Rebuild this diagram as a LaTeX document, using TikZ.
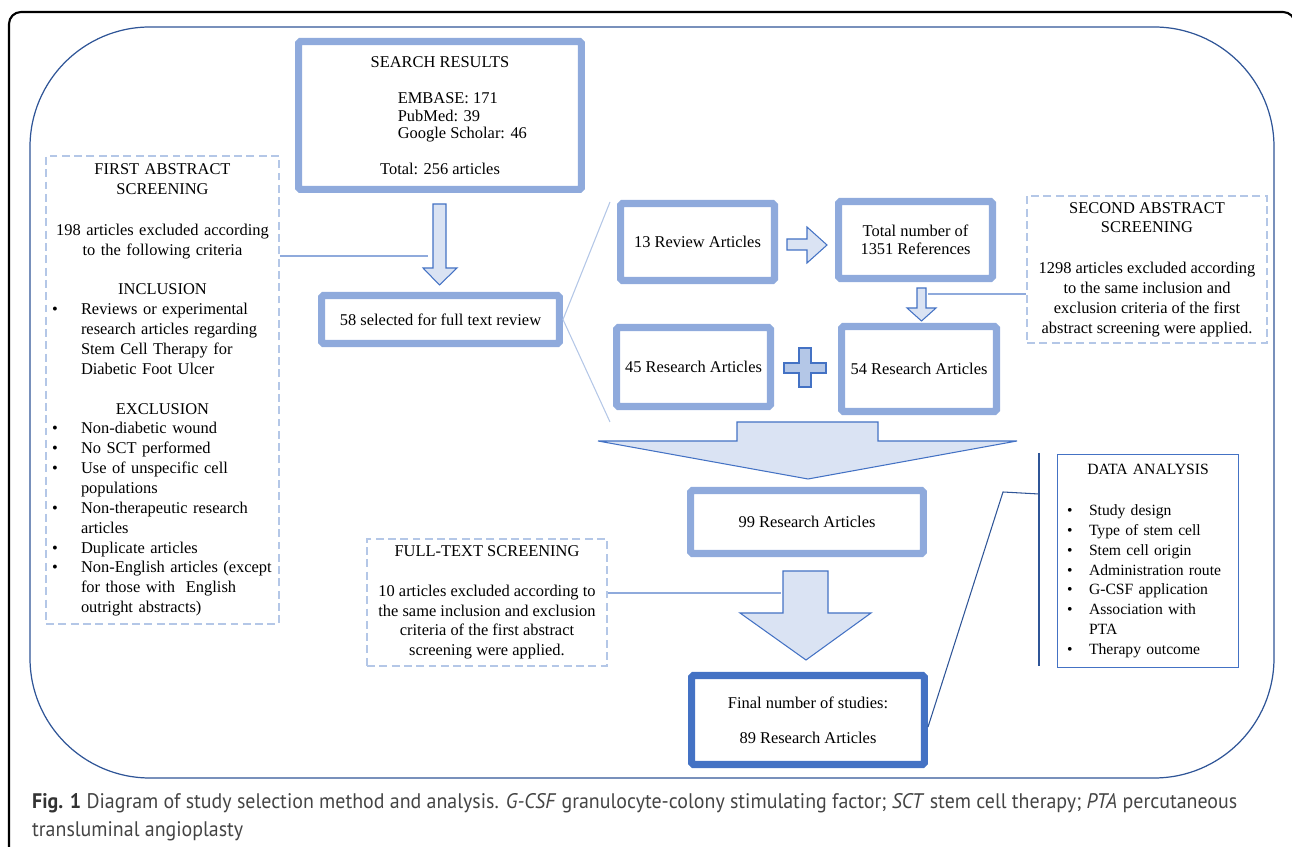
\documentclass[tikz,border=0pt]{standalone}
\usepackage{fontspec}
\setmainfont{Liberation Serif}
\newfontfamily\capfont[FakeStretch=0.945]{PT Sans}
\usepackage{xcolor}
\definecolor{boxblue}{HTML}{8FAADC}
\definecolor{dashblue}{HTML}{B4C7E7}
\definecolor{arrowfill}{HTML}{DAE3F3}
\definecolor{arrowline}{HTML}{4472C4}
\definecolor{plusfill}{HTML}{B4C7E7}
\definecolor{darkblue}{HTML}{2F5597}
\definecolor{capgray}{HTML}{444444}
\setlength{\parskip}{0pt}
\newcommand{\bpt}[2][5.8mm]{\par\noindent\hangindent=#1\hangafter=1\makebox[#1][l]{\textbullet}{\let\\\newline #2}\par}
\newcommand{\src}[1]{\hspace*{25pt}\makebox[73pt][l]{#1}}

\begin{document}
\begin{tikzpicture}[x=0.02cm,y=-0.02cm,
    txt/.style={font=\fontsize{9.35}{11.3}\selectfont,align=center},
    wh/.style 2 args={minimum width=#1*0.2mm,minimum height=#2*0.2mm},
    mainbox/.style={draw=boxblue,line width=4pt,rounded corners=1pt,inner sep=0pt,txt},
    finalbox/.style={mainbox,draw=arrowline},
    dashbox/.style={draw=dashblue,line width=1.1pt,dash pattern=on 4.5pt off 2.5pt,inner sep=0pt,txt},
    databox/.style={draw=arrowline,line width=0.6pt,inner sep=0pt,font=\fontsize{8.9}{11.3}\selectfont},
    blockarrow/.style={fill=arrowfill,draw=arrowline,line width=0.6pt},
    thinlink/.style={draw=boxblue,line width=0.6pt},
    fanline/.style={draw=dashblue,line width=0.6pt},
    darklink/.style={draw=darkblue,line width=0.6pt}]
\useasboundingbox (0,0) rectangle (1292,847);
\begin{scope}
\clip (0,0) rectangle (1292,847);
\draw[line width=1.2pt,rounded corners=2.4mm] (9,12) rectangle (1295,900);
\end{scope}
\draw[darkblue,line width=0.7pt,rounded corners=24mm] (30,27) rectangle (1274,778);

% boxes
\node (search) at (440,115.5) [mainbox,wh={283}{148}] {SEARCH RESULTS\\[9.6pt]
    \src{EMBASE: 171}\\[-1.4pt]
    \src{PubMed: 39}\\[-1.4pt]
    \src{Google Scholar: 46}\\[9.1pt]
    Total: 256 articles};
\node (sel58) at (440.5,319.5) [mainbox,wh={238}{48}] {58 selected for full text review};
\node (rev13) at (697.5,242) [mainbox,wh={154}{77}] {13 Review Articles};
\node (total) at (915.5,240) [mainbox,wh={154}{77}] {Total number of\\[-1pt] 1351 References};
\node (res45) at (693.5,367) [mainbox,wh={154}{79}] {45 Research Articles};
\node (res54) at (919,369) [mainbox,wh={155}{85}] {54 Research Articles};
\node (res99) at (807,522) [mainbox,wh={233}{63}] {99 Research Articles};
\node (final) at (808,720) [finalbox,wh={233}{89}] {Final number of studies:\\[8.5pt] 89 Research Articles};

\node (first) at (162.5,390) [dashbox,wh={233}{468},text width=44.2mm,inner xsep=1.2mm,align=left] {%
    {\centering FIRST ABSTRACT\\ SCREENING\\[11.9pt] 198 articles excluded according\\ to the following criteria\\[11.3pt] INCLUSION\par}
    \bpt{Reviews or experimental\\ research articles regarding\\ Stem Cell Therapy for\\ Diabetic Foot Ulcer}
    \vspace{11.3pt}{\centering EXCLUSION\par}
    \bpt{Non-diabetic wound}
    \bpt{No SCT performed}
    \bpt{Use of unspecific cell\\ populations}
    \bpt{Non-therapeutic research\\ articles}
    \bpt{Duplicate articles}
    \bpt{Non-English articles (except\\ for those with\ \ English\\ outright abstracts)}};
\node (second) at (1147,269.5) [dashbox,wh={240}{147}] {SECOND ABSTRACT\\ SCREENING\\[11.9pt]
    1298 articles excluded according\\ to the same inclusion and\\ exclusion criteria of the first\\ abstract screening were applied.};
\node (fulltext) at (487,602.5) [dashbox,wh={240}{127}] {FULL-TEXT SCREENING\\[11.3pt]
    10 articles excluded according to\\ the same inclusion and exclusion\\ criteria of the first abstract\\ screening were applied.};
\node (data) at (1148,561) [databox,wh={181}{213},text width=32.4mm,inner xsep=1.9mm,align=left] {%
    {\centering DATA ANALYSIS\par}
    \vspace{12pt}
    \bpt[4.4mm]{Study design}
    \bpt[4.4mm]{Type of stem cell}
    \bpt[4.4mm]{Stem cell origin}
    \bpt[4.4mm]{Administration~route}
    \bpt[4.4mm]{G-CSF application}
    \bpt[4.4mm]{Association with\\ PTA}
    \bpt[4.4mm]{Therapy outcome}};

% block arrows
\draw[blockarrow] (433,204) -- (446,204) -- (446,268) -- (457,268) -- (439.5,285) -- (423,268) -- (433,268) -- cycle;
\draw[blockarrow] (787,239) -- (807,239) -- (807,227) -- (827,245) -- (807,263) -- (807,250) -- (787,250) -- cycle;
\draw[blockarrow] (917,288) -- (926,288) -- (926,308) -- (936,308) -- (921.5,321) -- (907,308) -- (917,308) -- cycle;
\draw[blockarrow] (737,422) -- (878,422) -- (878,441) -- (1017,441) -- (808,479) -- (598,441) -- (737,441) -- cycle;
\draw[blockarrow] (783,571) -- (828,571) -- (828,613) -- (871,613) -- (806,660) -- (740,613) -- (783,613) -- cycle;
\draw[blockarrow,fill=plusfill] (799,348) -- (811,348) -- (811,363) -- (826,363) -- (826,373) -- (811,373) -- (811,387) -- (799,387) -- (799,373) -- (784,373) -- (784,363) -- (799,363) -- cycle;

% connectors
\coordinate (arrA) at (428,256);
\coordinate (arrB) at (928,294);
\coordinate (arrC) at (781,593);
\coordinate (fanTop) at (610,202);
\coordinate (fanBot) at (610,422);
\coordinate (d1) at (1003,492);
\coordinate (d2) at (1039,494);
\draw[thinlink] (first.east |- arrA) -- (arrA);
\draw[thinlink] (second.west |- arrB) -- (arrB);
\draw[thinlink] (fulltext.east |- arrC) -- (arrC);
\draw[fanline] (fanTop) -- (sel58.east) -- (fanBot);
\draw[darkblue,line width=1.1pt] (1039,453) -- (1039,666);
\draw[darklink] ([yshift=-1.4mm]final.east) -- (d1) -- (d2);

% caption
\node (caption) at (26,836) [anchor=base west,align=left,text=capgray,font=\capfont\fontsize{12}{15.5}\selectfont] {%
    {\bfseries\color{black!80}Fig. 1} Diagram of study selection method and analysis. \textit{G-CSF} granulocyte-colony stimulating factor; \textit{SCT} stem cell therapy; \textit{PTA} percutaneous\\
    transluminal angioplasty};
\end{tikzpicture}
\end{document}
